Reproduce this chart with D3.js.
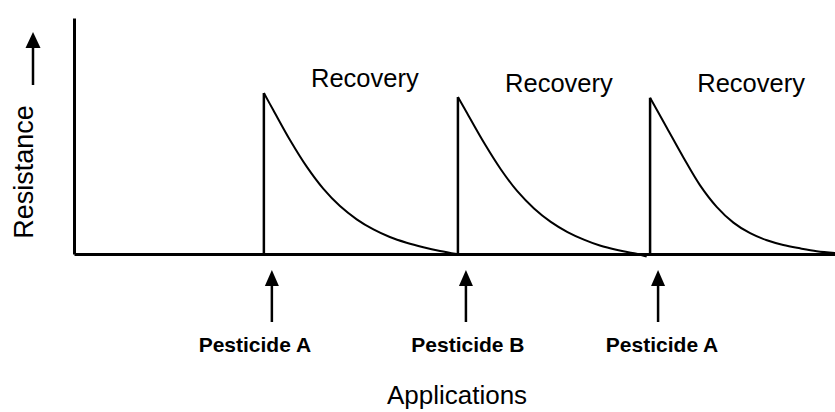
<!DOCTYPE html>
<html>
<head>
<meta charset="utf-8">
<script src="https://cdn.jsdelivr.net/npm/d3@7"></script>
<style>
  html, body { margin: 0; padding: 0; background: #fff; }
  svg { display: block; font-family: "Liberation Sans", Arial, sans-serif; }
</style>
</head>
<body>
<svg id="chart" width="835" height="412"></svg>
<script>
// ---- data ----
const applications = ["Pesticide A", "Pesticide B", "Pesticide A"];
const applicationTimes = [4.99, 10.09, 15.14];
const recoveryLabels = ["Recovery", "Recovery", "Recovery"];

const recovery1T = [4.99, 5.24, 5.68, 6.12, 6.55, 6.99, 7.43, 7.87, 8.30, 8.74, 9.18, 9.62, 10.06];
const recovery1R = [68.2, 60.9, 48.2, 36.9, 27.7, 20.3, 14.7, 10.4, 7.2, 4.8, 2.9, 1.3, 0.0];

const recovery2T = [10.09, 10.34, 10.78, 11.22, 11.65, 12.09, 12.53, 12.97, 13.40, 13.82, 14.28, 14.72, 15.05];
const recovery2R = [66.5, 59.4, 47.0, 35.8, 26.6, 19.3, 13.6, 9.3, 6.1, 3.6, 1.7, 0.3, -1.1];

const recovery3T = [15.14, 15.58, 16.02, 16.45, 16.89, 17.33, 17.77, 18.21, 18.64, 19.08, 19.52, 20.0];
const recovery3R = [66.2, 53.5, 40.8, 29.2, 20.0, 13.3, 8.8, 5.8, 3.8, 2.4, 1.2, 0.4];

const xTitle = "Applications";
const yTitle = "Resistance";

// ---- layout ----
const svg = d3.select("#chart");
const x = d3.scaleLinear().domain([0, 20]).range([74, 835]);
const y = d3.scaleLinear().domain([0, 100]).range([254, 18]);

// axes (no ticks)
const gx = svg.append("g").attr("transform", `translate(0,${y(0)})`)
  .call(d3.axisBottom(x).tickValues([]).tickSizeOuter(0));
const gy = svg.append("g").attr("transform", `translate(${x(0)},0)`)
  .call(d3.axisLeft(y).tickValues([]).tickSizeOuter(0));
[gx, gy].forEach(g => g.select(".domain").attr("stroke", "#000").attr("stroke-width", 3));

// recovery curves
const series = [
  recovery1T.map((t, i) => [t, recovery1R[i]]),
  recovery2T.map((t, i) => [t, recovery2R[i]]),
  recovery3T.map((t, i) => [t, recovery3R[i]])
];
const line = d3.line().x(d => x(d[0])).y(d => y(d[1])).curve(d3.curveCatmullRom.alpha(0.5));

series.forEach((s, i) => {
  // vertical spike at application
  svg.append("line")
    .attr("x1", x(s[0][0])).attr("x2", x(s[0][0]))
    .attr("y1", y(0)).attr("y2", y(s[0][1]))
    .attr("stroke", "#000").attr("stroke-width", 2.5);
  svg.append("path").datum(s)
    .attr("d", line)
    .attr("fill", "none").attr("stroke", "#000").attr("stroke-width", 2);
});

// recovery labels
const recBase = [87, 92, 92];
recoveryLabels.forEach((lab, i) => {
  svg.append("text")
    .attr("x", x(applicationTimes[i]) + 101)
    .attr("y", recBase[i])
    .attr("text-anchor", "middle")
    .attr("font-size", 25.5)
    .text(lab);
});

// application arrows + labels
function upArrow(cx, yTip, yBottom, headLen, headW) {
  svg.append("line")
    .attr("x1", cx).attr("x2", cx)
    .attr("y1", yBottom).attr("y2", yTip + headLen - 1)
    .attr("stroke", "#000").attr("stroke-width", 2.5);
  svg.append("path")
    .attr("d", `M${cx},${yTip} L${cx - headW / 2},${yTip + headLen} L${cx + headW / 2},${yTip + headLen} Z`)
    .attr("fill", "#000");
}
const labelShift = [-17, 2, 4];
applications.forEach((lab, i) => {
  const ax = x(applicationTimes[i]) + 8;
  upArrow(ax, 270, 322, 16, 14);
  svg.append("text")
    .attr("x", ax + labelShift[i])
    .attr("y", 352)
    .attr("text-anchor", "middle")
    .attr("font-size", 21)
    .attr("font-weight", "bold")
    .text(lab);
});

// axis titles
svg.append("text")
  .attr("x", 457).attr("y", 404)
  .attr("text-anchor", "middle")
  .attr("font-size", 26)
  .text(xTitle);

svg.append("text")
  .attr("transform", "translate(33,172) rotate(-90)")
  .attr("text-anchor", "middle")
  .attr("font-size", 27)
  .text(yTitle);

// resistance arrow
upArrow(33, 32, 85, 16, 15);
</script>
</body>
</html>
